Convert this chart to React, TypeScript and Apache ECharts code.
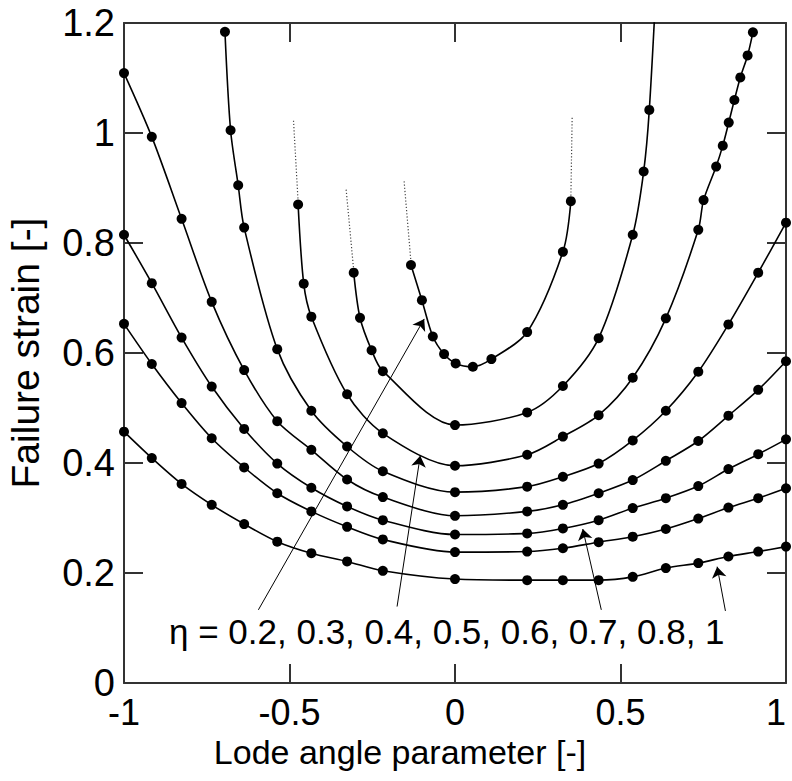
import React, { useEffect, useRef } from "react";
import * as echarts from "echarts";

// Failure strain vs Lode angle parameter, one curve per stress triaxiality eta
const ETA_LABELS = ["0.2", "0.3", "0.4", "0.5", "0.6", "0.7", "0.8", "1"];

const ETA02_X = [-0.133, -0.1, -0.067, -0.033, 0.002, 0.054, 0.11, 0.218, 0.326, 0.35];
const ETA02_Y = [0.76, 0.696, 0.63, 0.598, 0.581, 0.575, 0.589, 0.638, 0.784, 0.876];

const ETA03_X = [-0.306, -0.287, -0.252, -0.218, 0, 0.218, 0.326, 0.434, 0.537, 0.57, 0.587];
const ETA03_Y = [0.746, 0.664, 0.605, 0.567, 0.469, 0.492, 0.54, 0.627, 0.815, 0.93, 1.042];
const ETA03_EXIT = [0.612, 1.32]; // line leaves the top of the plot without a marker

const ETA04_X = [-0.474, -0.457, -0.434, -0.326, -0.218, 0, 0.218, 0.326, 0.434, 0.537, 0.637, 0.735, 0.751, 0.789, 0.809, 0.827, 0.844, 0.862, 0.884, 0.9];
const ETA04_Y = [0.87, 0.726, 0.666, 0.525, 0.454, 0.395, 0.415, 0.448, 0.487, 0.555, 0.663, 0.824, 0.878, 0.939, 0.977, 1.019, 1.06, 1.101, 1.141, 1.183];

const ETA05_X = [-0.695, -0.678, -0.655, -0.637, -0.537, -0.434, -0.326, -0.218, 0, 0.218, 0.326, 0.434, 0.537, 0.637, 0.735, 0.826, 0.916, 1];
const ETA05_Y = [1.184, 1.005, 0.905, 0.828, 0.607, 0.495, 0.43, 0.385, 0.347, 0.357, 0.375, 0.399, 0.441, 0.495, 0.566, 0.652, 0.746, 0.837];

const GRID_X = [-1, -0.916, -0.826, -0.735, -0.637, -0.537, -0.434, -0.326, -0.218, 0, 0.218, 0.326, 0.434, 0.537, 0.637, 0.735, 0.826, 0.916, 1];
const ETA06_Y = [1.109, 0.993, 0.844, 0.693, 0.569, 0.476, 0.424, 0.37, 0.338, 0.304, 0.312, 0.324, 0.345, 0.369, 0.404, 0.44, 0.486, 0.533, 0.585];
const ETA07_Y = [0.815, 0.727, 0.628, 0.539, 0.462, 0.399, 0.355, 0.321, 0.296, 0.27, 0.272, 0.281, 0.296, 0.318, 0.336, 0.358, 0.389, 0.416, 0.443];
const ETA08_Y = [0.653, 0.58, 0.509, 0.445, 0.392, 0.345, 0.312, 0.284, 0.261, 0.238, 0.239, 0.245, 0.256, 0.266, 0.28, 0.299, 0.319, 0.336, 0.354];
const ETA1_Y = [0.457, 0.409, 0.362, 0.324, 0.289, 0.257, 0.236, 0.221, 0.204, 0.189, 0.187, 0.187, 0.187, 0.193, 0.209, 0.218, 0.23, 0.239, 0.248];

// dotted continuations above the end points
const DOT_ETA02_L = [[-0.133, 0.765], [-0.154, 0.914]];
const DOT_ETA02_R = [[0.35, 0.88], [0.354, 1.03]];
const DOT_ETA03_L = [[-0.306, 0.75], [-0.329, 0.898]];
const DOT_ETA04_L = [[-0.474, 0.875], [-0.488, 1.024]];

// annotation arrows: [start, tip]
const ARROWS = [
  [[-0.594, 0.133], [-0.093, 0.662]],
  [[-0.175, 0.139], [-0.105, 0.413]],
  [[0.442, 0.133], [0.386, 0.28]],
  [[0.817, 0.131], [0.792, 0.2115]],
];

const X_NAME = "Lode angle parameter [-]";
const Y_NAME = "Failure strain [-]";
const ANNOT = "\u03b7 = " + ETA_LABELS.join(", ");

const FONT = "'Liberation Sans', Arial, Helvetica, sans-serif";
const AXIS_COLOR = "#333";

const zip = (xs: number[], ys: number[]) => xs.map((x, i) => [x, ys[i]]);

function curve(name: string, data: any[]) {
  return {
    name,
    type: "line",
    data,
    smooth: 0.3,
    symbol: "circle",
    symbolSize: 10,
    showAllSymbol: true,
    itemStyle: { color: "#000" },
    lineStyle: { color: "#000", width: 1.6 },
    emphasis: { disabled: true },
    z: 3,
  };
}

function dotted(data: number[][]) {
  return {
    type: "line",
    data,
    symbol: "none",
    lineStyle: { color: "#444", width: 1.2, type: [1.2, 2] },
    emphasis: { disabled: true },
    silent: true,
    z: 2,
  };
}

export default function App() {
  const ref = useRef<HTMLDivElement>(null);
  useEffect(() => {
    if (!ref.current) return;
    const chart = echarts.init(ref.current, null, { renderer: "svg" });
    const axisCommon = {
      type: "value",
      splitLine: { show: false },
      axisLine: { show: true, onZero: false, lineStyle: { color: AXIS_COLOR, width: 2 } },
      axisTick: { show: true, inside: true, length: 19, lineStyle: { color: AXIS_COLOR, width: 2 } },
    };
    const eta1 = curve("1", zip(GRID_X, ETA1_Y));
    (eta1 as any).markLine = {
      silent: true,
      symbol: ["none", "arrow"],
      symbolSize: 11,
      label: { show: false },
      lineStyle: { color: "#000", width: 1, type: "solid" },
      emphasis: { disabled: true },
      data: ARROWS.map(([a, b]) => [{ coord: a }, { coord: b }]),
    };
    const eta03Data: any[] = zip(ETA03_X, ETA03_Y);
    eta03Data.push({ value: ETA03_EXIT, symbol: "none" });

    const option: any = {
      animation: false,
      backgroundColor: "#fff",
      textStyle: { fontFamily: FONT },
      grid: { left: 124, right: 6, top: 23, bottom: 98, containLabel: false, outerBoundsMode: "none" },
      xAxis: [
        {
          ...axisCommon,
          position: "bottom",
          min: -1,
          max: 1,
          interval: 0.5,
          axisLabel: { color: "#000", fontSize: 36, fontFamily: FONT, margin: 11, alignMaxLabel: "right" },
          name: X_NAME,
          nameLocation: "middle",
          nameGap: 33,
          nameTextStyle: { color: "#000", fontSize: 34, fontFamily: FONT, padding: [0, 110, 0, 0] },
        },
        {
          ...axisCommon,
          position: "top",
          min: -1,
          max: 1,
          interval: 0.5,
          axisLabel: { show: false },
        },
      ],
      yAxis: [
        {
          ...axisCommon,
          position: "left",
          min: 0,
          max: 1.2,
          interval: 0.2,
          axisLabel: { color: "#000", fontSize: 38, fontFamily: FONT, margin: 9 },
          name: Y_NAME,
          nameLocation: "middle",
          nameGap: 79,
          nameRotate: 90,
          nameTextStyle: { color: "#000", fontSize: 39, fontFamily: FONT },
        },
        {
          ...axisCommon,
          position: "right",
          min: 0,
          max: 1.2,
          interval: 0.2,
          axisLabel: { show: false },
        },
      ],
      series: [
        curve("0.2", zip(ETA02_X, ETA02_Y)),
        curve("0.3", eta03Data),
        curve("0.4", zip(ETA04_X, ETA04_Y)),
        curve("0.5", zip(ETA05_X, ETA05_Y)),
        curve("0.6", zip(GRID_X, ETA06_Y)),
        curve("0.7", zip(GRID_X, ETA07_Y)),
        curve("0.8", zip(GRID_X, ETA08_Y)),
        eta1,
        dotted(DOT_ETA02_L),
        dotted(DOT_ETA02_R),
        dotted(DOT_ETA03_L),
        dotted(DOT_ETA04_L),
      ],
      graphic: [
        {
          type: "text",
          x: 169,
          y: 631,
          style: {
            text: ANNOT,
            fill: "#000",
            fontSize: 35,
            fontFamily: FONT,
            verticalAlign: "middle",
            align: "left",
          },
          z: 10,
        },
      ],
    };
    chart.setOption(option);
    return () => chart.dispose();
  }, []);
  return (
    <div
      ref={ref}
      style={{ position: "fixed", left: 0, top: 0, width: 792, height: 781, background: "#fff" }}
    />
  );
}
